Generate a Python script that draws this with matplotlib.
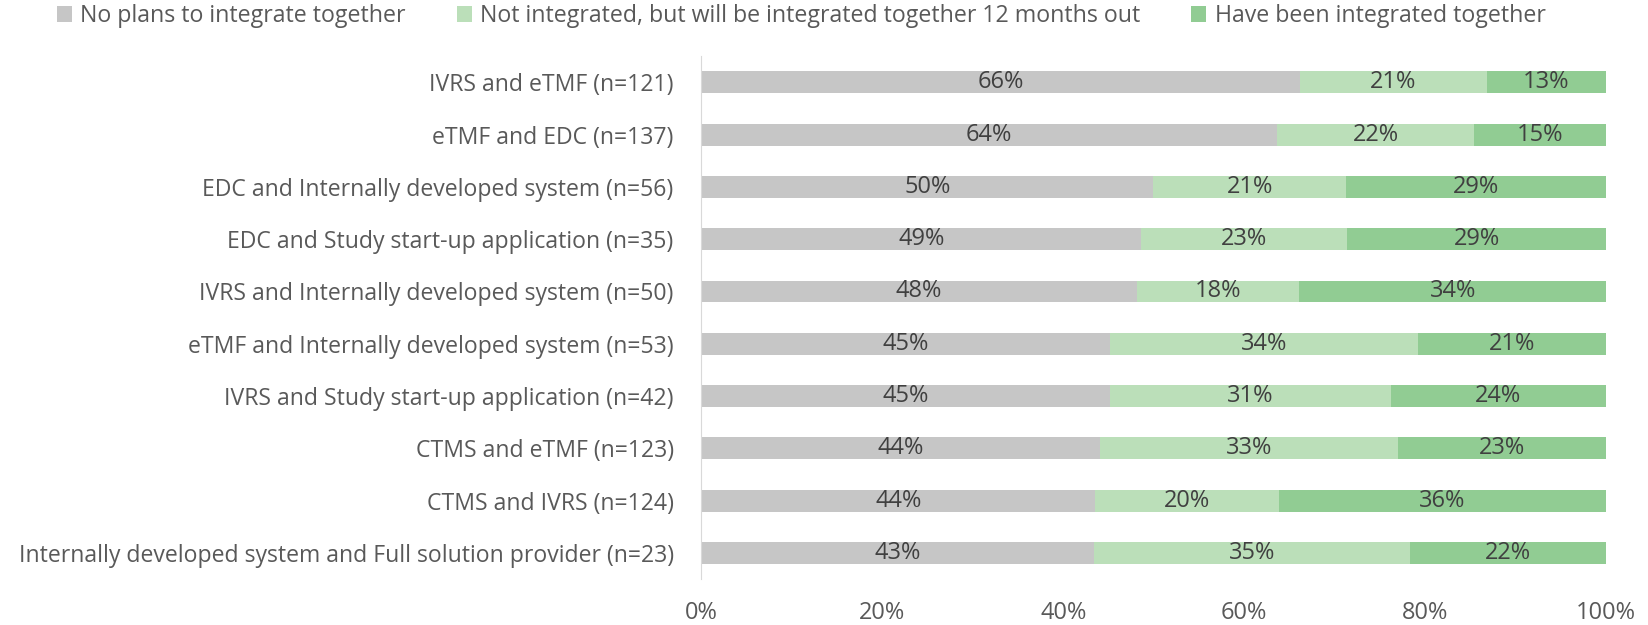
import matplotlib
matplotlib.use("Agg")
import matplotlib.pyplot as plt
import numpy as np

plt.rcParams['font.family'] = ['Open Sans', 'DejaVu Sans']

categories = [
    "IVRS and eTMF (n=121)",
    "eTMF and EDC (n=137)",
    "EDC and Internally developed system (n=56)",
    "EDC and Study start-up application (n=35)",
    "IVRS and Internally developed system (n=50)",
    "eTMF and Internally developed system (n=53)",
    "IVRS and Study start-up application (n=42)",
    "CTMS and eTMF (n=123)",
    "CTMS and IVRS (n=124)",
    "Internally developed system and Full solution provider (n=23)",
]
no_plans = [66.2, 63.6, 49.9, 48.6, 48.1, 45.2, 45.2, 44.0, 43.5, 43.4]
will_integrate = [20.6, 21.8, 21.4, 22.8, 18.0, 34.0, 31.0, 33.0, 20.3, 34.9]
integrated = [13.2, 14.6, 28.7, 28.6, 33.9, 20.8, 23.8, 23.0, 36.2, 21.7]
series_names = ["No plans to integrate together",
                "Not integrated, but will be integrated together 12 months out",
                "Have been integrated together"]
xticks = [0, 20, 40, 60, 80, 100]

colors = ["#C6C6C6", "#BBDFB9", "#91CC93"]

fig = plt.figure(figsize=(16.49, 6.25), dpi=100)
ax = fig.add_axes([0.4254, 0.0736, 0.974 - 0.4254, 0.910 - 0.0736])

y = np.arange(len(categories))
left = np.zeros(len(categories))
for vals, c, name in zip([no_plans, will_integrate, integrated], colors, series_names):
    vals = np.array(vals)
    ax.barh(y, vals, left=left, height=0.42, color=c, label=name)
    for yi, l, v in zip(y, left, vals):
        ax.text(l + v / 2, yi, f"{round(v):.0f}%", ha="center", va="center",
                fontsize=17, color="#404040")
    left = left + vals

ax.set_ylim(len(categories) - 0.5, -0.5)
ax.set_xlim(0, 100)
ax.set_yticks(y)
ax.set_yticklabels(categories, fontsize=16.6, color="#595959")
ax.set_xticks(xticks)
ax.set_xticklabels([f"{t}%" for t in xticks], fontsize=17, color="#595959")
ax.tick_params(axis="both", length=0)
ax.tick_params(axis="y", pad=20)
ax.tick_params(axis="x", pad=16)
for s in ["top", "right", "bottom"]:
    ax.spines[s].set_visible(False)
ax.spines["left"].set_color("#D9D9D9")

fig.legend(loc="upper left", bbox_to_anchor=(0.022, 1.027), ncol=3, frameon=False,
           fontsize=16.7, labelcolor="#595959", handlelength=0.65, handleheight=0.65,
           handletextpad=0.35, columnspacing=2.2)

fig.savefig("out.png", dpi=100)
